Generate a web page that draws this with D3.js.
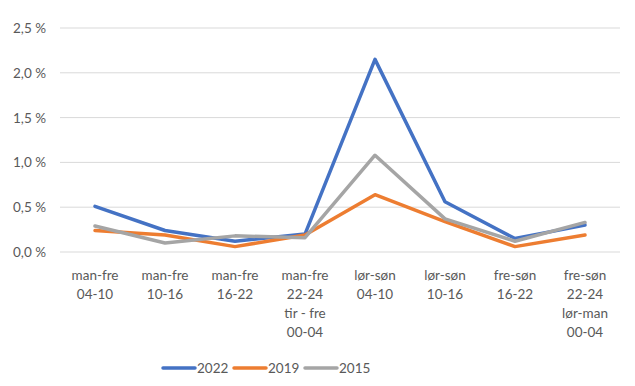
<!DOCTYPE html>
<html>
<head>
<meta charset="utf-8">
<script src="https://cdn.jsdelivr.net/npm/d3@7"></script>
<style>
  body { margin: 0; background: #fff; }
  text { font-family: Lato, "Open Sans", sans-serif; fill: #595959; }
</style>
</head>
<body>
<div id="chart"></div>
<script>
// categories (multi-line labels)
var categories = [
  ["man-fre", "04-10"],
  ["man-fre", "10-16"],
  ["man-fre", "16-22"],
  ["man-fre", "22-24", "tir - fre", "00-04"],
  ["lør-søn", "04-10"],
  ["lør-søn", "10-16"],
  ["fre-søn", "16-22"],
  ["fre-søn", "22-24", "lør-man", "00-04"]
];
var seriesNames = ["2022", "2019", "2015"];
var colors = ["#4472C4", "#ED7D31", "#A5A5A5"];
var v2022 = [0.51, 0.24, 0.12, 0.20, 2.15, 0.56, 0.15, 0.30];
var v2019 = [0.24, 0.19, 0.06, 0.19, 0.64, 0.34, 0.06, 0.19];
var v2015 = [0.29, 0.10, 0.18, 0.16, 1.08, 0.37, 0.12, 0.33];
var yTicks = [0, 0.5, 1.0, 1.5, 2.0, 2.5];

var values = [v2022, v2019, v2015];

var W = 635, H = 386;
var svg = d3.select("#chart")
  .append("svg")
    .attr("width", W)
    .attr("height", H);

var x = d3.scaleBand()
  .domain(d3.range(categories.length))
  .range([60, 620]);

var y = d3.scaleLinear()
  .domain([0, 2.5])
  .range([252, 28]);

// gridlines
svg.append("g")
  .selectAll("line")
  .data(yTicks)
  .enter()
  .append("line")
    .attr("x1", 60)
    .attr("x2", 620)
    .attr("y1", function (d) { return y(d); })
    .attr("y2", function (d) { return y(d); })
    .attr("stroke", "#D9D9D9")
    .attr("stroke-width", 1);

// y labels
svg.append("g")
  .selectAll("text")
  .data(yTicks)
  .enter()
  .append("text")
    .attr("x", 46)
    .attr("y", function (d) { return y(d) + 5; })
    .attr("text-anchor", "end")
    .style("font-size", "13.5px")
    .text(function (d) { return d.toFixed(1).replace(".", ",") + " %"; });

// x labels
var xl = svg.append("g")
  .selectAll("text")
  .data(categories)
  .enter()
  .append("text")
    .attr("text-anchor", "middle")
    .style("font-size", "13.5px")
    .attr("transform", function (d, i) {
      return "translate(" + (x(i) + x.bandwidth() / 2) + ",280)";
    });
xl.selectAll("tspan")
  .data(function (d) { return d; })
  .enter()
  .append("tspan")
    .attr("x", 0)
    .attr("y", function (d, i) { return i * 19; })
    .text(function (d) { return d; });

// lines
var line = d3.line()
  .x(function (d, i) { return x(i) + x.bandwidth() / 2; })
  .y(function (d) { return y(d); });

svg.append("g")
  .selectAll("path")
  .data(values)
  .enter()
  .append("path")
    .attr("d", line)
    .attr("fill", "none")
    .attr("stroke", function (d, i) { return colors[i]; })
    .attr("stroke-width", 3.5)
    .attr("stroke-linejoin", "round")
    .attr("stroke-linecap", "round");

// legend
var lg = svg.append("g")
  .selectAll("g")
  .data(seriesNames)
  .enter()
  .append("g")
    .attr("transform", function (d, i) { return "translate(" + (163 + i * 71) + ",368)"; });
lg.append("line")
  .attr("x1", 0)
  .attr("x2", 32)
  .attr("y1", 0)
  .attr("y2", 0)
  .attr("stroke", function (d, i) { return colors[i]; })
  .attr("stroke-width", 3.5)
  .attr("stroke-linecap", "round");
lg.append("text")
  .attr("x", 34)
  .attr("y", 5)
  .style("font-size", "13.5px")
  .text(function (d) { return d; });
</script>
</body>
</html>
